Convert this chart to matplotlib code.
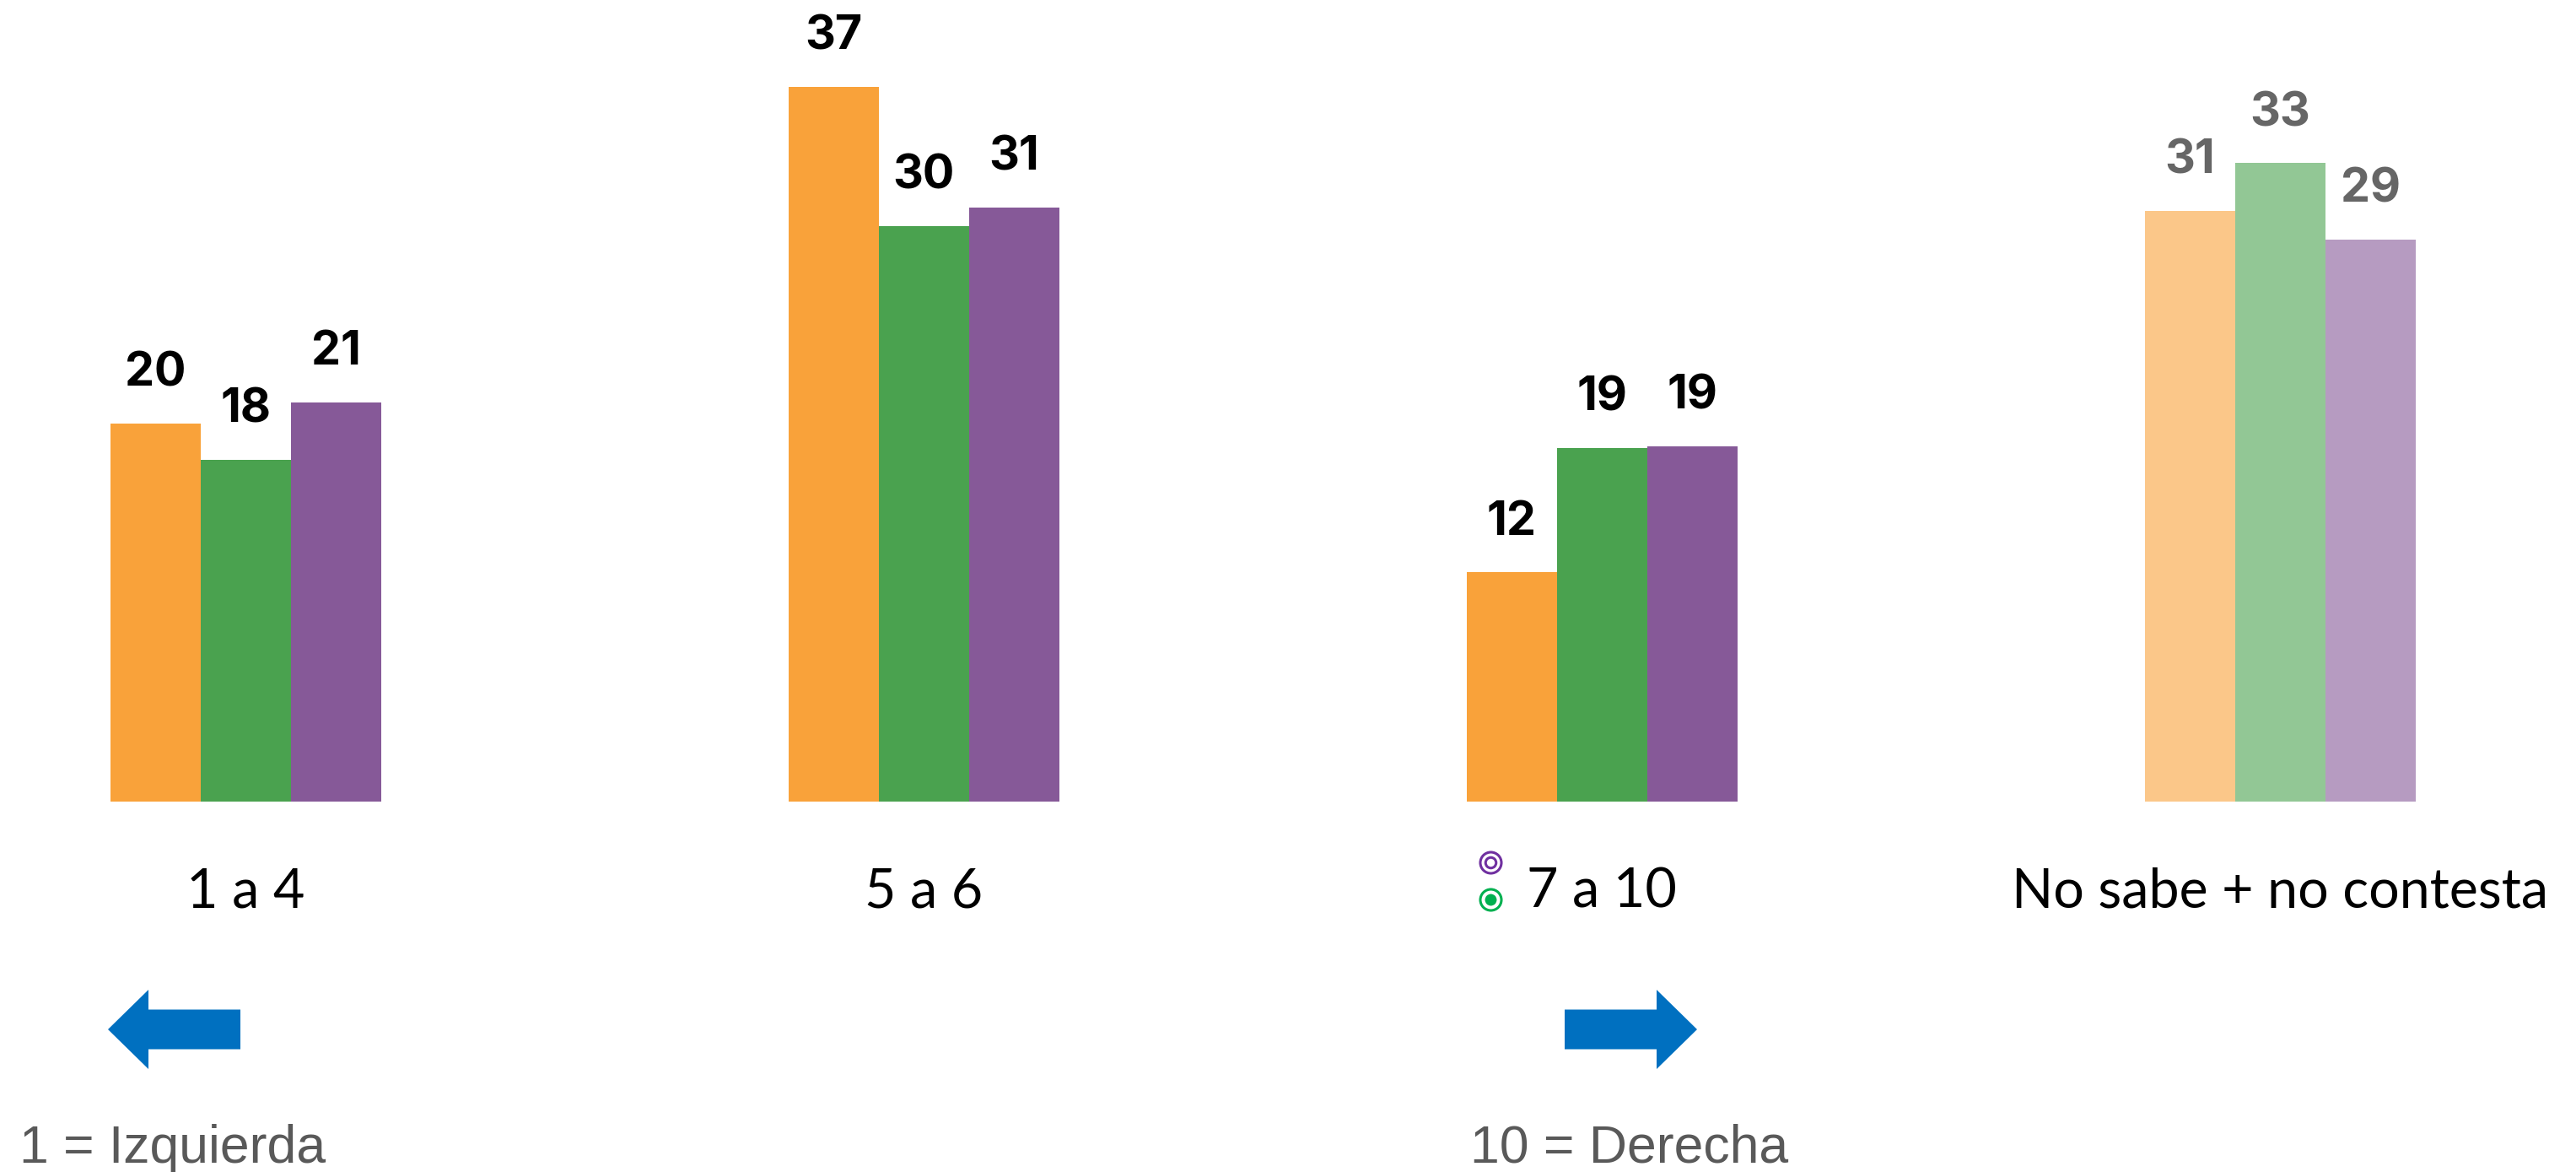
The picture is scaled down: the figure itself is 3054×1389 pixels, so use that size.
import numpy as np
import matplotlib.pyplot as plt
from matplotlib.patches import FancyArrow
from matplotlib.colors import to_rgba

categories = ['1 a 4', '5 a 6', '7 a 10', 'No sabe + no contesta']
# bar heights, labels as printed
serie_naranja = [19.8, 37.4, 12.0, 30.9]
serie_verde = [17.9, 30.1, 18.5, 33.4]
serie_morada = [20.9, 31.1, 18.6, 29.4]
etiq_naranja = ['20', '37', '12', '31']
etiq_verde = ['18', '30', '19', '33']
etiq_morada = ['21', '31', '19', '29']

colores = ['#F9A23A', '#4AA24F', '#865998']
W, H = 3054, 1389

fig = plt.figure(figsize=(W / 100, H / 100), dpi=100)
ax = fig.add_axes([0, 439 / H, 1, 1 - 439 / H])

x = np.arange(len(categories))
ancho = 107 / 804
series = [serie_naranja, serie_verde, serie_morada]
etiquetas = [etiq_naranja, etiq_verde, etiq_morada]

for i, (vals, labs, col) in enumerate(zip(series, etiquetas, colores)):
    offs = x + (i - 1) * ancho
    # the last group ("no sabe") is drawn in lighter tones
    fcols = [col] * 3 + [to_rgba(col, 0.6)]
    ax.bar(offs, vals, width=ancho, color=fcols, linewidth=0)
    for j, (xx, v, lab) in enumerate(zip(offs, vals, labs)):
        ax.annotate(lab, (xx, v), xytext=(0, 32), textcoords='offset points',
                    ha='center', va='baseline', fontsize=40, fontweight='bold',
                    family='Inter', color='#666666' if j == 3 else 'black')

ax.set_xlim(-291 / 804, (W - 291) / 804)
ax.set_ylim(0, 950 / 22.65)
ax.set_xticks(x, categories)
ax.tick_params(axis='x', length=0, pad=56, labelsize=46.5)
for t in ax.get_xticklabels():
    t.set_family('Lato')
ax.set_yticks([])
for s in ax.spines.values():
    s.set_visible(False)
ax.patch.set_alpha(0)

# arrows
azul = '#0070C0'
fig.add_artist(FancyArrow(285 / W, 169 / H, -157 / W, 0, width=47 / H,
                          head_width=94 / H, head_length=48 / W,
                          length_includes_head=True, color=azul, lw=0,
                          transform=fig.transFigure))
fig.add_artist(FancyArrow(1855 / W, 169 / H, 157 / W, 0, width=47 / H,
                          head_width=94 / H, head_length=48 / W,
                          length_includes_head=True, color=azul, lw=0,
                          transform=fig.transFigure))

fig.text(23 / W, 11 / H, '1 = Izquierda', fontsize=45, color='#595959',
         family='Liberation Sans', va='baseline')
fig.text(1743 / W, 11 / H, '10 = Derecha', fontsize=45, color='#595959',
         family='Liberation Sans', va='baseline')

# small circle icons beside "7 a 10"
cx = 1767 / W
fig.lines.append(plt.Line2D([cx], [1 - 1022 / H], marker='o', markersize=18,
                            mfc='white', mec='#7030A0', mew=2.2,
                            transform=fig.transFigure))
fig.lines.append(plt.Line2D([cx], [1 - 1022 / H], marker='o', markersize=9,
                            mfc='white', mec='#7030A0', mew=2.2,
                            transform=fig.transFigure))
fig.lines.append(plt.Line2D([cx], [1 - 1066 / H], marker='o', markersize=18,
                            mfc='white', mec='#00B050', mew=2.2,
                            transform=fig.transFigure))
fig.lines.append(plt.Line2D([cx], [1 - 1066 / H], marker='o', markersize=10,
                            mfc='#00B050', mec='#00B050', mew=0,
                            transform=fig.transFigure))

fig.savefig('out.png', dpi=100)
